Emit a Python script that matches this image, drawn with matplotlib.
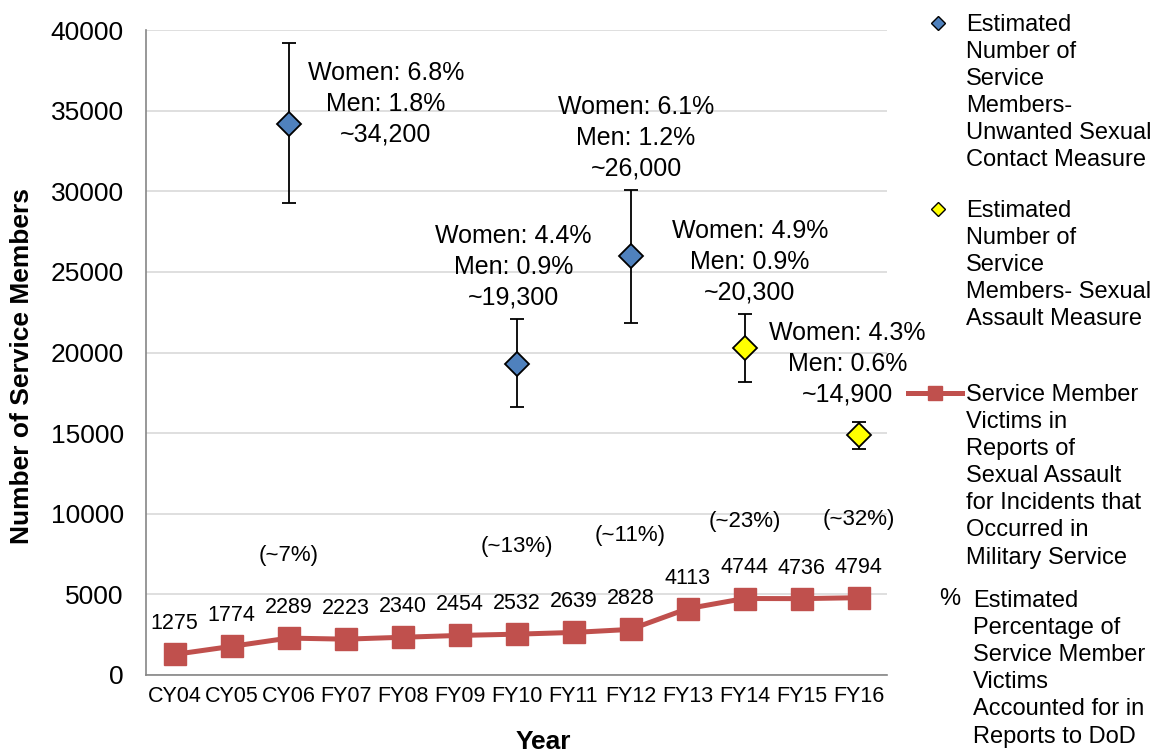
import matplotlib
matplotlib.use("Agg")

import matplotlib.pyplot as plt
from matplotlib.lines import Line2D
import numpy as np

# ── data ────────────────────────────────────────────────────────────────
years = ["CY04", "CY05", "CY06", "FY07", "FY08", "FY09", "FY10",
         "FY11", "FY12", "FY13", "FY14", "FY15", "FY16"]
victims = [1275, 1774, 2289, 2223, 2340, 2454, 2532, 2639, 2828,
           4113, 4744, 4736, 4794]

# unwanted sexual contact measure (blue)
usc_years = ["CY06", "FY10", "FY12"]
usc_est = [34200, 19300, 26000]
usc_low = [29300, 16600, 21800]
usc_high = [39200, 22100, 30100]
usc_women = ["6.8%", "4.4%", "6.1%"]
usc_men = ["1.8%", "0.9%", "1.2%"]
usc_text = ["~34,200", "~19,300", "~26,000"]

# sexual assault measure (yellow)
sa_years = ["FY14", "FY16"]
sa_est = [20300, 14900]
sa_low = [18200, 14000]
sa_high = [22400, 15700]
sa_women = ["4.9%", "4.3%"]
sa_men = ["0.9%", "0.6%"]
sa_text = ["~20,300", "~14,900"]

# percentage accounted for in reports
pct_years = ["CY06", "FY10", "FY12", "FY14", "FY16"]
pct_labels = ["(~7%)", "(~13%)", "(~11%)", "(~23%)", "(~32%)"]

# ── style ───────────────────────────────────────────────────────────────
BLUE = "#4F81BD"
YELLOW = "#FFFF00"
RED = "#C0504D"
GRID = "#D9D9D9"
SPINE = "#868686"
REG = ["Liberation Sans", "DejaVu Sans"]
SMALL = 15.5   # the "narrow" labels of the original, at a smaller size

# layout of the annotation blocks (offset in points from each marker)
usc_offsets = [(70, 14), (-2, 70), (4, 85)]
sa_offsets = [(4, 62), (-8, 51)]
pct_y = [7380, 7940, 8680, 9550, 9670]   # text heights for % labels

W, H = 1156, 750
fig = plt.figure(figsize=(W / 100, H / 100), dpi=100)
ax = fig.add_axes([146 / W, (H - 675) / H, 741 / W, 645 / H])

idx = {y: i for i, y in enumerate(years)}
x = np.arange(len(years))

# ── victims line ────────────────────────────────────────────────────────
ax.plot(x, victims, color=RED, lw=3.6, marker="s", ms=16, zorder=3)
for xi, v in zip(x, victims):
    ax.annotate(str(v), (xi, v), xytext=(0, 22), textcoords="offset points",
                ha="center", va="center", fontsize=SMALL, family=REG)


# ── estimate points with error bars ─────────────────────────────────────
def draw_estimates(cats, est, low, high, women, men, txt, offs, colour):
    xs = [idx[c] for c in cats]
    est = np.array(est)
    yerr = [est - np.array(low), np.array(high) - est]
    ax.errorbar(xs, est, yerr=yerr, fmt="none", ecolor="black",
                elinewidth=1.3, capsize=5, capthick=1.3, zorder=4)
    ax.plot(xs, est, ls="none", marker="D", ms=12, mfc=colour,
            mec="black", mew=1.3, zorder=5)
    for xi, e, w, m, t, o in zip(xs, est, women, men, txt, offs):
        ax.annotate(f"Women: {w}\nMen: {m}\n{t}", (xi, e), xytext=o,
                    textcoords="offset points", ha="center", va="center",
                    multialignment="center", fontsize=18, family=REG,
                    linespacing=1.35, annotation_clip=False)


draw_estimates(usc_years, usc_est, usc_low, usc_high, usc_women, usc_men,
               usc_text, usc_offsets, BLUE)
draw_estimates(sa_years, sa_est, sa_low, sa_high, sa_women, sa_men,
               sa_text, sa_offsets, YELLOW)

for c, lab, yy in zip(pct_years, pct_labels, pct_y):
    ax.text(idx[c], yy, lab, ha="center", va="center", fontsize=16,
            family=REG)

# ── axes cosmetics ──────────────────────────────────────────────────────
ax.set_xlim(-0.5, len(years) - 0.5)
ax.set_ylim(0, 40000)
ax.set_yticks(np.arange(0, 40001, 5000))
ax.set_xticks(x)
ax.set_xticklabels(years, fontsize=SMALL, family=REG)
for lab in ax.get_yticklabels():
    lab.set_fontsize(19)
    lab.set_family(REG)
ax.tick_params(axis="both", length=0)
ax.tick_params(axis="y", pad=16)
ax.tick_params(axis="x", pad=8)
ax.grid(axis="y", color=GRID, lw=1.2, zorder=0)
ax.set_axisbelow(True)
for s in ("top", "right"):
    ax.spines[s].set_visible(False)
for s in ("left", "bottom"):
    ax.spines[s].set_color(SPINE)
    ax.spines[s].set_linewidth(1.2)

fig.text(22 / W, 1 - 366 / H, "Number of Service Members", rotation=90,
         ha="center", va="center", fontsize=19, fontweight="bold",
         family=REG)
fig.text(543 / W, 1 - 742 / H, "Year", ha="center", va="center",
         fontsize=19, fontweight="bold", family=REG)

# ── legend (drawn by hand to mimic the wrapped Excel legend) ───────────
def fx(px):
    return px / W


def fy(py):
    return 1 - py / H


fig.add_artist(Line2D([fx(938)], [fy(23)], marker="D", ms=7, mfc=BLUE,
                      mec="black", mew=1, ls="none",
                      transform=fig.transFigure))
fig.add_artist(Line2D([fx(938)], [fy(209)], marker="D", ms=7, mfc=YELLOW,
                      mec="black", mew=1, ls="none",
                      transform=fig.transFigure))
fig.add_artist(Line2D([fx(908), fx(962)], [fy(393), fy(393)], color=RED,
                      lw=3.6, transform=fig.transFigure))
fig.add_artist(Line2D([fx(935)], [fy(393)], marker="s", ms=10, color=RED,
                      ls="none", transform=fig.transFigure))
fig.text(fx(950), fy(599), "%", ha="center", va="center", fontsize=17,
         family=REG)

legend_blocks = [
    (966, 23, "Estimated\nNumber of\nService\nMembers-\nUnwanted Sexual\nContact Measure"),
    (966, 209, "Estimated\nNumber of\nService\nMembers- Sexual\nAssault Measure"),
    (966, 393, "Service Member\nVictims in\nReports of\nSexual Assault\nfor Incidents that\nOccurred in\nMilitary Service"),
    (973, 599, "Estimated\nPercentage of\nService Member\nVictims\nAccounted for in\nReports to DoD"),
]
for lx, ly, txt in legend_blocks:
    fig.text(fx(lx), fy(ly - 9), txt, ha="left", va="top", fontsize=17,
             family=REG, linespacing=1.3)

fig.savefig("out.png", dpi=100)
